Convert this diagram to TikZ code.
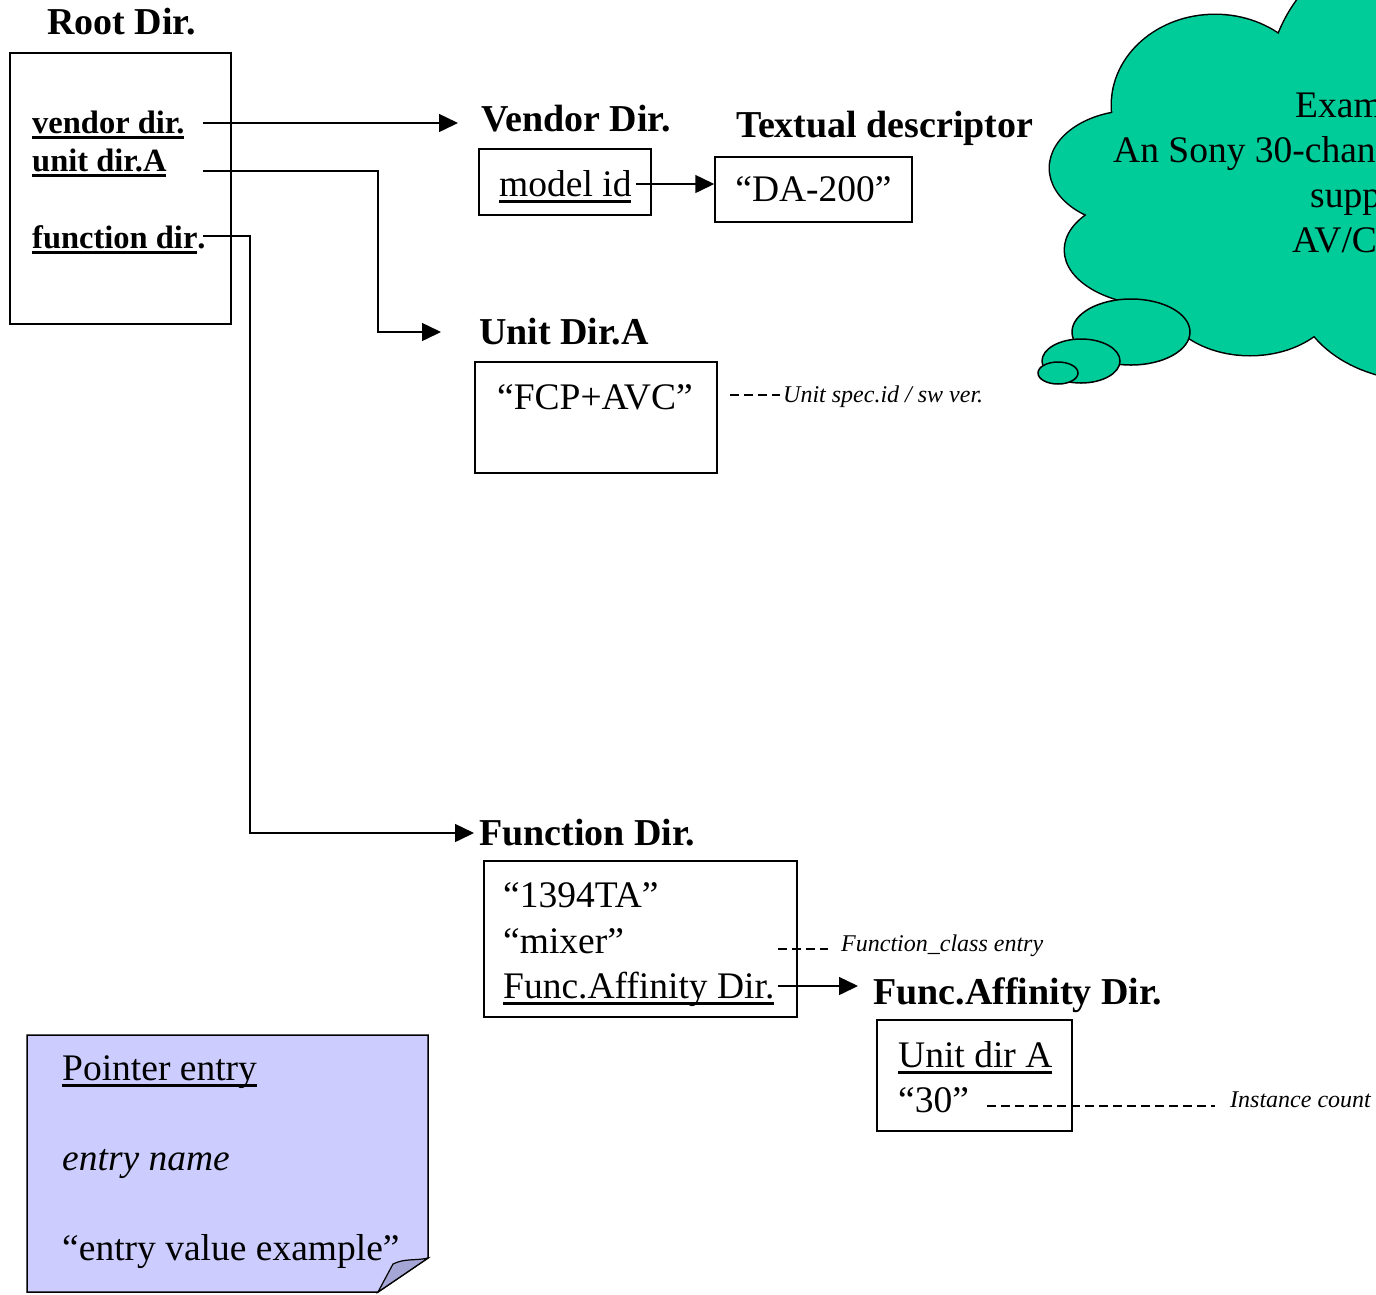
\documentclass[tikz,border=0pt]{standalone}
\usepackage{fontspec}
\setmainfont{Liberation Serif}
\usetikzlibrary{arrows.meta}
\definecolor{cloudgreen}{HTML}{00CC99}
\definecolor{notelav}{HTML}{CCCCFF}
\definecolor{notefold}{HTML}{A6A6D6}
\newcommand{\undl}[1]{\setbox0\hbox{#1}\leavevmode\rlap{\rule[-0.16em]{\wd0}{0.07em}}\box0}
\begin{document}
\begin{tikzpicture}[x=1pt,y=-1pt,
  box/.style={draw,line width=1.5pt,inner sep=0pt},
  head/.style={anchor=west,inner sep=0pt,text height=27pt,text depth=2pt,font=\fontsize{38}{42}\selectfont\bfseries},
  entry/.style={anchor=west,inner sep=0pt,text height=23pt,text depth=2pt,font=\fontsize{32.5}{36}\selectfont\bfseries},
  val/.style={anchor=west,inner sep=0pt,text height=27pt,text depth=2pt,font=\fontsize{37.5}{41}\selectfont},
  remark/.style={anchor=west,inner sep=0pt,text height=17pt,text depth=1.5pt,font=\fontsize{24}{28}\selectfont\itshape},
  ptr/.style={line width=1.5pt,-{Triangle[length=19pt,width=18pt]}},
  hint/.style={line width=1.2pt,dash pattern=on 9pt off 5pt}]
  \useasboundingbox (0,0) rectangle (1376,1294);
  \begin{scope}
  \clip (0,0) rectangle (1376,1294);
  \foreach \cx/\cy/\rx/\ry in {1215/105/103/90,1420/90/152/152,1135/168/85/57,1160/250/95/55,1250/290/90/65,1420/285/125/95,1270/190/120/130}
    \draw[line width=3pt] (\cx,\cy) ellipse [x radius=\rx,y radius=\ry];
  \foreach \cx/\cy/\rx/\ry in {1215/105/103/90,1420/90/152/152,1135/168/85/57,1160/250/95/55,1250/290/90/65,1420/285/125/95,1270/190/120/130}
    \fill[cloudgreen] (\cx,\cy) ellipse [x radius=\rx,y radius=\ry];
  \node[val] (ex1) at (1295,105) {Exam};
  \node[val] (ex2) at (1113,150) {An Sony 30-chann};
  \node[val] (ex3) at (1310,195) {supp};
  \node[val] (ex4) at (1292,240) {AV/C};
  \end{scope}
  \begin{scope}[every path/.style={fill=cloudgreen,draw=black,line width=1.5pt}]
  \path (1131,332) ellipse [x radius=59,y radius=33];
  \path (1081,361) ellipse [x radius=39,y radius=22];
  \path (1058,373) ellipse [x radius=20,y radius=11];
  \end{scope}

  \node[box,minimum width=221pt,minimum height=271pt] (root) at (120.5,188.5) {};
  \node[box,minimum width=172pt,minimum height=66pt] (mbox) at (565,182) {};
  \node[box,font=\fontsize{37.5}{41}\selectfont,minimum width=197pt,minimum height=65pt] (da) at (813.5,189.5) {“DA-200”};
  \node[box,minimum width=242pt,minimum height=111pt] (fcpbox) at (596,417.5) {};
  \node[box,minimum width=313pt,minimum height=156pt] (fbox) at (640.5,939) {};
  \node[box,minimum width=195pt,minimum height=111pt] (fabox) at (974.5,1075.5) {};

  \node[head] (roothead) at (47,22) {Root Dir.};
  \node[entry] (vend) at (32,123) {\undl{vendor dir.}};
  \node[entry] (unit) at (32,161) {\undl{unit dir.A}};
  \node[entry] (func) at (32,238) {\undl{function dir}.};
  \node[head] (vhead) at (481,119) {Vendor Dir.};
  \node[val] (mid) at (499,184) {\undl{model id}};
  \node[head] (thead) at (736,125) {Textual descriptor};
  \node[head] (uhead) at (479,332) {Unit Dir.A};
  \node[val] (fcp) at (497,397) {“FCP+AVC”};
  \node[remark] (uspec) at (783,395) {Unit spec.id / sw ver.};
  \node[head] (fhead) at (479,833) {Function Dir.};
  \node[val] (ta) at (503,895) {“1394TA”};
  \node[val] (mix) at (503,941) {“mixer”};
  \node[val] (fad) at (503,986) {\undl{Func.Affinity Dir.}};
  \node[remark] (fclab) at (841,944) {Function\_class entry};
  \node[head] (fahead) at (873,992) {Func.Affinity Dir.};
  \node[val] (ua) at (898,1055) {\undl{Unit dir A}};
  \node[val] (cnt) at (898,1100) {“30”};
  \node[remark] (iclab) at (1230,1100) {Instance count};

  \coordinate (vs) at (203,123);
  \coordinate (us) at (203,171);
  \coordinate (fs) at (203,236);
  \coordinate (ss) at (730,395);
  \coordinate (fcs) at (778,949);
  \coordinate (ics) at (987,1106);
  \draw[ptr,shorten >=23pt] (vs) -- (vs -| vhead.west);
  \draw[ptr,shorten >=38pt] (us) -- ++(175,0) |- (uhead.west);
  \draw[ptr,shorten >=5pt] (fs) -- ++(47,0) |- (fhead.west);
  \draw[ptr] ([xshift=4pt]mid.east) -- (mid.east -| da.west);
  \draw[ptr,shorten >=15pt] ([xshift=3pt]fad.east) -- (fad.east -| fahead.west);
  \draw[hint,shorten >=3pt] (ss) -- (uspec.west);
  \draw[hint,shorten >=13pt] (fcs) -- (fcs -| fclab.west);
  \draw[hint,shorten >=15pt] (ics) -- (ics -| iclab.west);

  \fill[notelav,draw=black,line width=1.5pt] (27,1035) -- (428,1035) -- (428,1258) -- (378,1292) -- (27,1292) -- cycle;
  \fill[notefold,draw=black,line width=1.2pt] (378,1292) -- (393,1264) .. controls (405,1258) and (415,1261) .. (428,1258) -- cycle;
  \node[val] (pe) at (62,1068) {\undl{Pointer entry}};
  \node[val,font=\fontsize{37.5}{41}\selectfont\itshape] (en) at (62,1158) {entry name};
  \node[val] (ev) at (62,1248) {“entry value example”};
\end{tikzpicture}
\end{document}
